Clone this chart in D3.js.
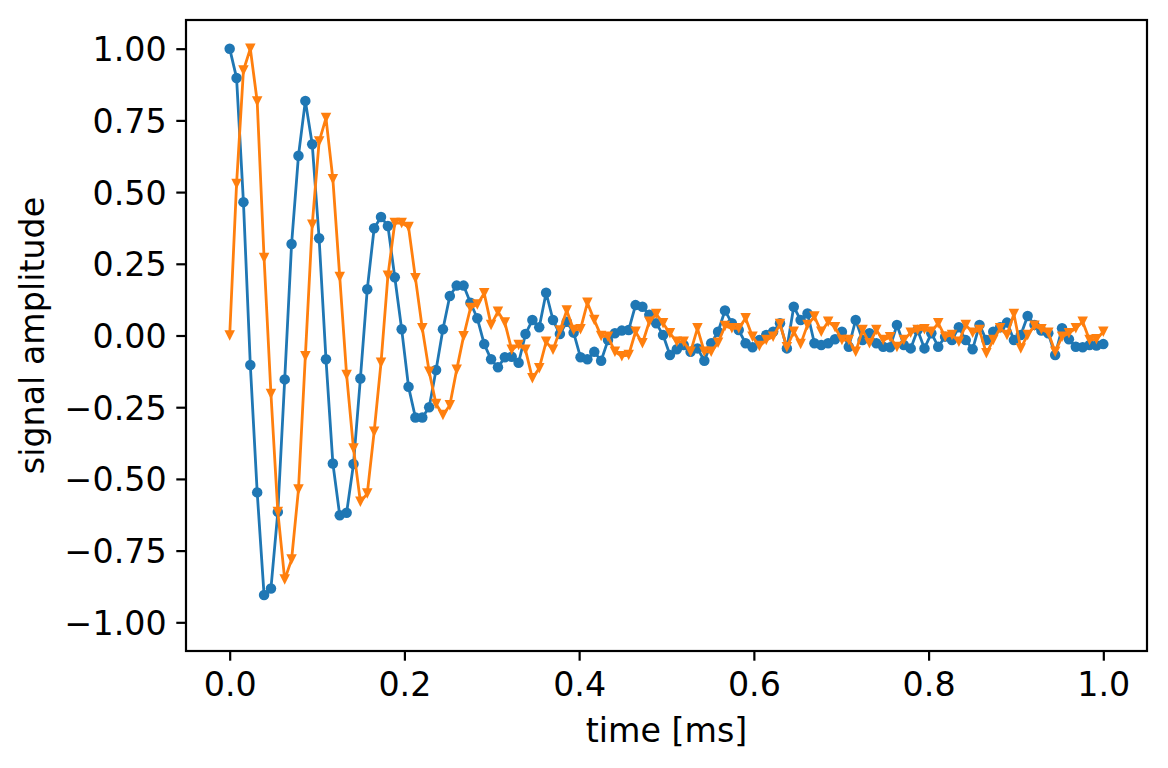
<!DOCTYPE html>
<html>
<head>
<meta charset="utf-8">
<script src="https://cdn.jsdelivr.net/npm/d3@7"></script>
<style>
    body { margin: 0; background: #ffffff; }
    svg { display: block; font-family: "DejaVu Sans", sans-serif; }
</style>
</head>
<body>
<div class="graph-container"></div>
<script>
const blueSignal = [
    1.00, 0.898, 0.465, -0.103, -0.547, -0.905, -0.882, -0.615, -0.153, 0.319,
    0.627, 0.818, 0.667, 0.339, -0.083, -0.446, -0.627, -0.618, -0.448, -0.150,
    0.161, 0.374, 0.413, 0.382, 0.203, 0.022, -0.179, -0.286, -0.286, -0.250,
    -0.120, 0.022, 0.138, 0.174, 0.174, 0.114, 0.060, -0.030, -0.083, -0.111,
    -0.076, -0.074, -0.095, 0.005, 0.054, 0.029, 0.149, 0.054, 0.005, 0.048,
    0.010, -0.076, -0.083, -0.057, -0.088, -0.016, 0.008, 0.017, 0.019, 0.106,
    0.100, 0.072, 0.043, 0.002, -0.068, -0.048, -0.033, -0.057, -0.045, -0.088,
    -0.027, 0.013, 0.087, 0.043, 0.019, -0.027, -0.041, -0.016, 0.002, 0.013,
    0.043, -0.045, 0.100, 0.054, 0.077, -0.027, -0.033, -0.027, -0.013, 0.013,
    -0.039, 0.054, -0.016, 0.008, -0.027, -0.039, -0.041, 0.037, -0.033, -0.045,
    0.019, -0.045, 0.008, -0.039, -0.004, -0.016, 0.029, -0.016, -0.048, 0.037,
    -0.016, 0.013, 0.029, 0.045, -0.016, 0.002, 0.068, 0.037, 0.017, 0.008,
    -0.068, 0.025, -0.013, -0.039, -0.041, -0.033, -0.035, -0.030
];

const orangeSignal = [
    0.000, 0.528, 0.924, 1.000, 0.816, 0.270, -0.204, -0.615, -0.851, -0.781,
    -0.537, -0.072, 0.386, 0.676, 0.758, 0.545, 0.204, -0.138, -0.394, -0.580,
    -0.551, -0.336, -0.095, 0.208, 0.392, 0.392, 0.378, 0.200, 0.025, -0.126,
    -0.239, -0.277, -0.243, -0.119, -0.003, 0.096, 0.108, 0.147, 0.037, 0.083,
    0.045, -0.050, -0.033, -0.050, -0.149, -0.114, -0.022, -0.050, 0.017, 0.087,
    0.019, 0.022, 0.114, 0.054, -0.002, -0.004, -0.057, -0.072, -0.068, 0.013,
    -0.027, 0.048, 0.075, 0.043, 0.008, -0.022, -0.022, -0.057, 0.025, -0.057,
    -0.057, -0.025, 0.033, 0.025, 0.025, 0.060, -0.004, -0.037, -0.016, -0.004,
    0.040, -0.041, 0.013, -0.030, 0.037, 0.066, 0.013, 0.048, 0.029, -0.016,
    -0.016, -0.057, 0.019, -0.027, 0.019, -0.016, -0.006, -0.040, -0.016, 0.010,
    0.019, 0.022, 0.013, 0.043, -0.004, 0.002, -0.022, 0.037, 0.010, 0.019,
    -0.062, -0.016, 0.025, 0.002, 0.075, -0.045, 0.002, 0.034, 0.022, 0.010,
    -0.057, -0.004, 0.008, 0.025, 0.048, -0.016, -0.013, 0.013
];

const xTicks = [0.0, 0.2, 0.4, 0.6, 0.8, 1.0];
const yTicks = [-1.00, -0.75, -0.50, -0.25, 0.00, 0.25, 0.50, 0.75, 1.00];

// time of each sample in ms, first sample at 0, last at 1
const time = blueSignal.map((v, i) => i / (blueSignal.length - 1));

// dimensions of the figure and the axes box
const dims = { width: 1168, height: 768 };
const box = { left: 186, right: 1147, top: 20, bottom: 651 };
const font = '"DejaVu Sans", sans-serif';
const fontSize = 33.3;
const tickLen = 9.7;
const minus = s => s.replace('-', '\u2212');

const svg = d3.select('div.graph-container')
    .append('svg')
    .attr('width', dims.width)
    .attr('height', dims.height);

const x = d3.scaleLinear()
    .domain([-0.05, 1.05])
    .range([box.left, box.right]);

const y = d3.scaleLinear()
    .domain([-1.1, 1.1])
    .range([box.bottom, box.top]);

// x axis
const xAxis = svg.append('g')
    .attr('transform', `translate(0, ${box.bottom})`)
    .call(d3.axisBottom(x)
        .tickValues(xTicks)
        .tickFormat(d => minus(d3.format('.1f')(d)))
        .tickSize(tickLen)
        .tickPadding(tickLen))
    .attr('font-family', font)
    .attr('font-size', fontSize);

xAxis.select('.domain').remove();
xAxis.selectAll('.tick line')
    .attr('stroke', '#000')
    .attr('stroke-width', 2.2);
xAxis.selectAll('.tick text')
    .attr('fill', '#000')
    .attr('dy', '0.76em');

// y axis
const yAxis = svg.append('g')
    .attr('transform', `translate(${box.left}, 0)`)
    .call(d3.axisLeft(y)
        .tickValues(yTicks)
        .tickFormat(d => minus(d3.format('.2f')(d)))
        .tickSize(tickLen)
        .tickPadding(tickLen))
    .attr('font-family', font)
    .attr('font-size', fontSize);

yAxis.select('.domain').remove();
yAxis.selectAll('.tick line')
    .attr('stroke', '#000')
    .attr('stroke-width', 2.2);
yAxis.selectAll('.tick text')
    .attr('fill', '#000')
    .attr('dy', '0.36em');

// axis labels
svg.append('text')
    .attr('x', x(0.5))
    .attr('y', 742)
    .attr('text-anchor', 'middle')
    .attr('font-family', font)
    .attr('font-size', fontSize)
    .text('time [ms]');

svg.append('text')
    .attr('transform', `translate(44, ${y(0)}) rotate(-90)`)
    .attr('text-anchor', 'middle')
    .attr('font-family', font)
    .attr('font-size', fontSize)
    .text('signal amplitude');

// plot area, clipped to the axes box
svg.append('defs')
    .append('clipPath')
    .attr('id', 'plot-clip')
    .append('rect')
    .attr('x', box.left)
    .attr('y', box.top)
    .attr('width', box.right - box.left)
    .attr('height', box.bottom - box.top);

const graph = svg.append('g')
    .attr('clip-path', 'url(#plot-clip)');

const line = d3.line()
    .x(d => x(d.t))
    .y(d => y(d.v));

const markerSize = 10.5;
const triangle = (cx, cy) => {
    const h = markerSize / 2;
    return `M${cx - h},${cy - h}L${cx + h},${cy - h}L${cx},${cy + h}Z`;
};

const drawSeries = (values, color, marker) => {
    const data = values.map((v, i) => ({ t: time[i], v: v }));
    const g = graph.append('g');

    g.append('path')
        .datum(data)
        .attr('d', line)
        .attr('fill', 'none')
        .attr('stroke', color)
        .attr('stroke-width', 2.8)
        .attr('stroke-linejoin', 'round');

    if (marker === 'o') {
        g.selectAll('circle')
            .data(data)
            .enter()
            .append('circle')
            .attr('cx', d => x(d.t))
            .attr('cy', d => y(d.v))
            .attr('r', markerSize / 2)
            .attr('fill', color);
    } else {
        g.selectAll('path.marker')
            .data(data)
            .enter()
            .append('path')
            .attr('class', 'marker')
            .attr('d', d => triangle(x(d.t), y(d.v)))
            .attr('fill', color);
    }
};

drawSeries(blueSignal, '#1f77b4', 'o');
drawSeries(orangeSignal, '#ff7f0e', 'v');

// frame around the axes
svg.append('rect')
    .attr('x', box.left)
    .attr('y', box.top)
    .attr('width', box.right - box.left)
    .attr('height', box.bottom - box.top)
    .attr('fill', 'none')
    .attr('stroke', '#000')
    .attr('stroke-width', 2.2);
</script>
</body>
</html>
